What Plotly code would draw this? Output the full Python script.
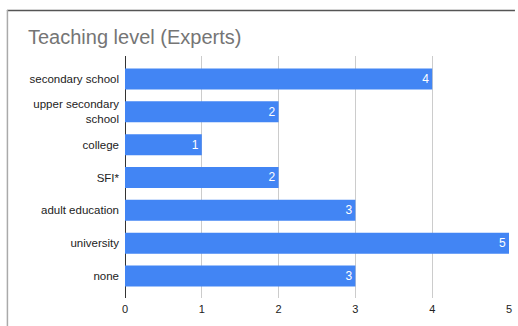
import plotly.graph_objects as go

categories = ["secondary school", "upper secondary<br>school", "college", "SFI*",
              "adult education", "university", "none"]
values = [4, 2, 1, 2, 3, 5, 3]
x_ticks = [0, 1, 2, 3, 4, 5]

W, H = 518, 326
L, R, T, B = 125, 6, 56, 28
pw, ph = W - L - R, H - T - B

def px_x(p):
    return (p - L) / pw

def px_y(p):
    return (H - B - p) / ph

fig = go.Figure()
fig.add_trace(go.Bar(
    y=categories, x=values, orientation="h",
    marker=dict(color="#4285F4", line=dict(width=0)),
    text=[str(v) for v in values], textposition="inside",
    insidetextanchor="end",
    textfont=dict(color="#ffffff", size=12, family="Liberation Sans, Arial"),
    width=0.64, cliponaxis=False,
))

fig.update_layout(
    width=W, height=H,
    margin=dict(l=L, r=R, t=T, b=B, pad=0),
    paper_bgcolor="#ffffff", plot_bgcolor="#ffffff",
    showlegend=False,
    font=dict(family="Liberation Sans, Arial", color="#222222", size=11),
    title=dict(text="Teaching level (Experts)", x=28 / W, xanchor="left",
               xref="container", y=1 - 37 / H, yanchor="middle", yref="container",
               font=dict(size=20, color="#757575", family="Liberation Sans, Arial")),
    xaxis=dict(range=[0, 5], tickvals=x_ticks, showgrid=True, gridcolor="#cccccc",
               gridwidth=1, zeroline=True, zerolinecolor="#333333", zerolinewidth=1,
               showline=False, ticks="", ticklabelstandoff=3,
               tickfont=dict(size=11, color="#222222")),
    yaxis=dict(range=[6.67, -0.7], showgrid=False, zeroline=False, showline=False,
               ticks="", ticklabelstandoff=5, tickfont=dict(size=11.5, color="#222222")),
    shapes=[
        dict(type="line", xref="paper", yref="paper", x0=px_x(6), x1=px_x(W),
             y0=px_y(10.5), y1=px_y(10.5), line=dict(color="#555555", width=1.5)),
        dict(type="line", xref="paper", yref="paper", x0=px_x(6.5), x1=px_x(6.5),
             y0=px_y(10), y1=px_y(H), line=dict(color="#aaaaaa", width=1.5)),
    ],
)

fig.write_html("out.html")
